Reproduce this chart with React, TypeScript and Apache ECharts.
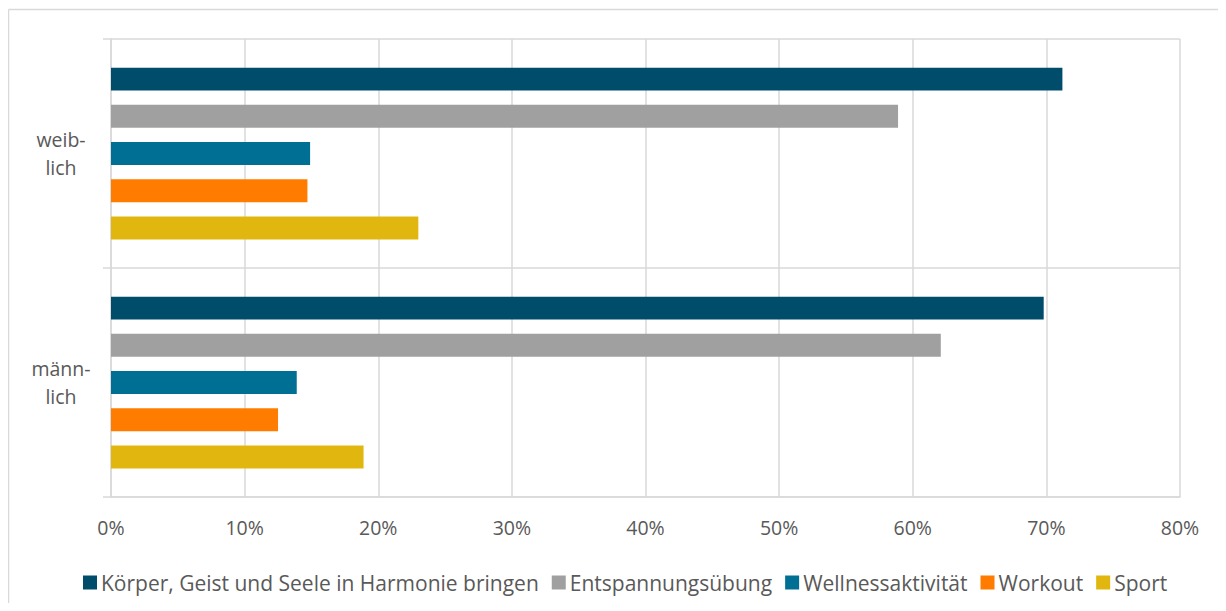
import React, { useEffect, useRef } from "react";
import * as echarts from "echarts";

const categories = ["männ-\nlich", "weib-\nlich"];
const seriesNames = [
  "Körper, Geist und Seele in Harmonie bringen",
  "Entspannungsübung",
  "Wellnessaktivität",
  "Workout",
  "Sport",
];
const koerper = [69.8, 71.2];
const entspannung = [62.1, 58.9];
const wellness = [13.9, 14.9];
const workout = [12.5, 14.7];
const sport = [18.9, 23.0];
const colors = ["#004D6B", "#A0A0A0", "#006F94", "#FF7C00", "#E1B70F"];
const xTicks = { min: 0, max: 80, interval: 10 };

const FONT = "Open Sans";
const TEXT = "#595959";
const GRID = "#D9D9D9";

export default function App() {
  const ref = useRef<HTMLDivElement>(null);
  useEffect(() => {
    const chart = echarts.init(ref.current!, null, { renderer: "svg" });
    const values = [koerper, entspannung, wellness, workout, sport];
    chart.setOption({
      animation: false,
      textStyle: { fontFamily: FONT, color: TEXT },
      graphic: [
        { type: "line", shape: { x1: 0.5, y1: 1.5, x2: 1218, y2: 1.5 }, style: { stroke: GRID, lineWidth: 1.5 } },
        { type: "line", shape: { x1: 0.5, y1: 1.5, x2: 0.5, y2: 595 }, style: { stroke: GRID, lineWidth: 1.5 } },
      ],
      grid: { left: 103, right: 46, top: 31, bottom: 106, containLabel: false },
      legend: {
        top: 564,
        left: 75,
        padding: 0,
        itemWidth: 14,
        itemHeight: 14,
        itemGap: 13,
        icon: "rect",
        data: seriesNames,
        textStyle: { fontFamily: FONT, fontSize: 21, color: TEXT, padding: [0, 0, 0, -1] },
      },
      xAxis: {
        type: "value",
        min: xTicks.min,
        max: xTicks.max,
        interval: xTicks.interval,
        axisLine: { show: true, lineStyle: { color: GRID, width: 1.5 } },
        axisTick: { show: false },
        splitLine: { show: true, lineStyle: { color: GRID, width: 1.5 } },
        axisLabel: { formatter: "{value}%", fontFamily: FONT, fontSize: 19.5, color: TEXT, margin: 20 },
      },
      yAxis: {
        type: "category",
        data: categories,
        axisLine: { show: true, lineStyle: { color: GRID, width: 1.5 } },
        axisTick: { show: true, length: 8, lineStyle: { color: GRID, width: 1.5 } },
        splitLine: { show: true, lineStyle: { color: GRID, width: 1.5 } },
        axisLabel: { fontFamily: FONT, fontSize: 19.5, color: TEXT, align: "center", margin: 50, lineHeight: 28 },
      },
      series: seriesNames.map((name, i) => ({
        name,
        type: "bar",
        data: values[i],
        itemStyle: { color: colors[i] },
        barCategoryGap: "25%",
        barGap: "62%",
      })),
    });
    return () => chart.dispose();
  }, []);
  return <div ref={ref} style={{ width: 1218, height: 595 }} />;
}
